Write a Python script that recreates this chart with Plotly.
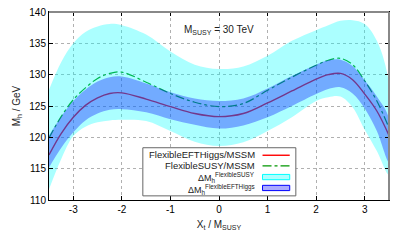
import plotly.graph_objects as go

x_vals = [-3.5, -3.25, -3.0, -2.75, -2.5, -2.25, -2.0, -1.5, -1.0, -0.5, 0.0,
          0.5, 1.0, 1.5, 2.0, 2.25, 2.5, 2.75, 3.0, 3.25, 3.5]

mh_eft = [117.2, 120.6, 123.2, 125.1, 126.3, 127.0, 127.1, 126.1, 124.9, 123.8, 123.3,
          123.8, 125.5, 127.4, 129.3, 130.0, 130.2, 129.2, 126.9, 124.2, 120.3]
mh_fs = [119.9, 123.3, 126.0, 127.9, 129.4, 130.2, 130.4, 128.8, 127.0, 125.6, 124.9,
         125.4, 127.5, 129.6, 131.5, 132.3, 132.6, 131.6, 129.0, 125.8, 121.5]

eft_lo = [115.2, 118.3, 120.8, 122.7, 123.8, 124.4, 124.5, 124.0, 122.9, 122.0, 121.4,
          121.9, 123.2, 125.0, 126.9, 127.7, 128.0, 127.0, 124.6, 121.0, 116.0]
eft_hi = [120.3, 123.3, 125.8, 127.6, 128.9, 129.6, 129.7, 128.6, 127.2, 126.2, 125.8,
          126.2, 127.8, 129.8, 131.6, 132.3, 132.4, 131.4, 129.1, 126.5, 123.0]

fs_lo = [111.7, 116.5, 120.2, 121.7, 122.4, 122.7, 122.8, 122.6, 121.0, 119.3, 118.6,
         119.2, 121.0, 123.2, 125.8, 126.4, 126.5, 124.8, 121.2, 117.8, 114.0]
fs_hi = [127.6, 132.0, 135.0, 136.8, 137.7, 138.1, 137.9, 136.4, 133.7, 131.6, 130.9,
         131.3, 133.0, 135.4, 137.1, 137.9, 138.6, 138.7, 138.1, 135.4, 128.5]

x_ticks = [-3, -2, -1, 0, 1, 2, 3]
y_ticks = [110, 115, 120, 125, 130, 135, 140]

legend_labels = ["FlexibleEFTHiggs/MSSM", "FlexibleSUSY/MSSM",
                 "ΔM<sub>h</sub><sup>FlexibleSUSY</sup>",
                 "ΔM<sub>h</sub><sup>FlexibleEFTHiggs</sup>"]

FONT = "Liberation Sans"
RED = "rgb(255,0,0)"
GREEN = "rgb(0,150,0)"
CYAN_FILL = "rgba(0,255,255,0.33)"
BLUE_FILL = "rgba(0,0,255,0.33)"

fig = go.Figure()
# lines first, bands drawn on top with transparency
fig.add_trace(go.Scatter(x=x_vals, y=mh_eft, mode="lines",
                         line=dict(color=RED, width=1.4, shape="spline"),
                         showlegend=False, hoverinfo="skip"))
fig.add_trace(go.Scatter(x=x_vals, y=mh_fs, mode="lines",
                         line=dict(color=GREEN, width=1.2, dash="dashdot", shape="spline"),
                         showlegend=False, hoverinfo="skip"))
fig.add_trace(go.Scatter(x=x_vals + x_vals[::-1], y=fs_hi + fs_lo[::-1], mode="lines",
                         fill="toself", fillcolor=CYAN_FILL,
                         line=dict(width=0, shape="spline"),
                         showlegend=False, hoverinfo="skip"))
fig.add_trace(go.Scatter(x=x_vals + x_vals[::-1], y=eft_hi + eft_lo[::-1], mode="lines",
                         fill="toself", fillcolor=BLUE_FILL,
                         line=dict(width=0, shape="spline"),
                         showlegend=False, hoverinfo="skip"))

axis_common = dict(showline=True, linecolor="black", linewidth=1, mirror="ticks",
                   ticks="inside", ticklen=4, tickcolor="black",
                   showgrid=True, gridcolor="#b0b0b0", griddash="dot", gridwidth=1,
                   zeroline=False, automargin=False,
                   tickfont=dict(family=FONT, size=10, color="black"))

fig.update_xaxes(range=[-3.5, 3.5], tickvals=x_ticks, ticktext=[str(v) for v in x_ticks],
                 title=dict(text="X<sub>t</sub> / M<sub>SUSY</sub>",
                            font=dict(family=FONT, size=10, color="#222"), standoff=6),
                 **axis_common)
fig.update_yaxes(range=[110, 140], tickvals=y_ticks, ticktext=[str(v) for v in y_ticks],
                 title=dict(text="M<sub>h</sub> / GeV",
                            font=dict(family=FONT, size=10, color="#222"), standoff=6),
                 **axis_common)

shapes = [
    # top & right frame lines (greyish in reference)
    dict(type="line", xref="paper", yref="paper", x0=0, x1=1, y0=1, y1=1,
         line=dict(color="#888888", width=2), layer="above"),
    dict(type="line", xref="paper", yref="paper", x0=1, x1=1, y0=0, y1=1,
         line=dict(color="#888888", width=2), layer="above"),
    # legend box
    dict(type="rect", xref="paper", yref="paper", x0=0.276, x1=0.726, y0=0.022, y1=0.278,
         fillcolor="white", line=dict(color="#666666", width=1), layer="above"),
    dict(type="line", xref="paper", yref="paper", x0=0.628, x1=0.708, y0=0.238, y1=0.238,
         line=dict(color=RED, width=1.4), layer="above"),
    dict(type="line", xref="paper", yref="paper", x0=0.628, x1=0.708, y0=0.182, y1=0.182,
         line=dict(color=GREEN, width=1.2, dash="dashdot"), layer="above"),
    dict(type="rect", xref="paper", yref="paper", x0=0.628, x1=0.708, y0=0.108, y1=0.136,
         fillcolor=CYAN_FILL, line=dict(color="cyan", width=1), layer="above"),
    dict(type="rect", xref="paper", yref="paper", x0=0.628, x1=0.708, y0=0.050, y1=0.078,
         fillcolor=BLUE_FILL, line=dict(color="blue", width=1), layer="above"),
]

annotations = [
    dict(text="M<sub>SUSY</sub> = 30 TeV", xref="x", yref="y", x=0, y=137.2,
         showarrow=False, font=dict(family=FONT, size=10, color="#222")),
]
leg_y = [0.240, 0.186, 0.118, 0.058]
leg_size = [9.5, 9.5, 9, 9]
for lab, yy, sz in zip(legend_labels, leg_y, leg_size):
    annotations.append(dict(text=lab, xref="paper", yref="paper", x=0.612, y=yy,
                            xanchor="right", yanchor="middle", showarrow=False,
                            font=dict(family=FONT, size=sz, color="#222")))

fig.update_layout(width=407, height=244, margin=dict(l=49, r=18, t=12, b=44),
                  plot_bgcolor="white", paper_bgcolor="white",
                  shapes=shapes, annotations=annotations, showlegend=False)

fig.write_html("out.html", config={"displayModeBar": False, "staticPlot": True},
               post_script="document.body.style.margin='0';document.body.style.overflow='hidden';")
